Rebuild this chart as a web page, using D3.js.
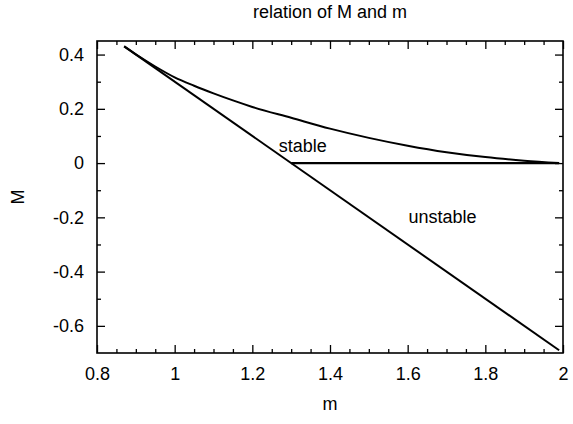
<!DOCTYPE html>
<html>
<head>
<meta charset="utf-8">
<script src="https://cdn.jsdelivr.net/npm/d3@7"></script>
<style>
	body { margin: 0; background: #fff; }
	text { font-family: "Liberation Sans", Arial, sans-serif; fill: #000; }
</style>
</head>
<body>
<div id="chart"></div>
<script>
//values
let curveM = [0.87, 0.9, 0.95, 1.0, 1.05, 1.1, 1.15, 1.2, 1.3, 1.4, 1.5, 1.6, 1.7, 1.8, 1.9, 1.99];
let curveMM = [0.43, 0.401, 0.356, 0.316, 0.285, 0.257, 0.231, 0.207, 0.167, 0.127, 0.093, 0.064, 0.040, 0.022, 0.009, 0];

let lineM = [0.87, 1.99];
let lineMM = [0.43, -0.69];

let zeroM = [1.3, 1.99];
let zeroMM = [0, 0];

let xTicks = [0.8, 1, 1.2, 1.4, 1.6, 1.8, 2];
let xMinor = [0.85, 0.9, 0.95, 1.05, 1.1, 1.15, 1.25, 1.3, 1.35, 1.45, 1.5, 1.55, 1.65, 1.7, 1.75, 1.85, 1.9, 1.95];
let yTicks = [-0.6, -0.4, -0.2, 0, 0.2, 0.4];
let yMinor = [-0.5, -0.3, -0.1, 0.1, 0.3];

let labels = [
	{text: "stable", m: 1.33, M: 0.062},
	{text: "unstable", m: 1.69, M: -0.2}
];

function graph(){

	let width = 573;
	let height = 424;
	let margin = {top: 41, right: 10, bottom: 71, left: 97};
	let fontSize = 18;

	let svg = d3.select("#chart")
		.append("svg")
		.attr("width", width)
		.attr("height", height);

	let xScale = d3.scaleLinear()
		.domain([0.8, 2])
		.range([margin.left, width - margin.right]);

	let yScale = d3.scaleLinear()
		.domain([-0.7, 0.45])
		.range([height - margin.bottom, margin.top]);

	let fmt = (d) => String(+d.toFixed(1));

	//major ticks, bottom + left with labels
	let xAxis = d3.axisBottom(xScale).tickValues(xTicks).tickFormat(fmt)
		.tickSizeInner(-8).tickSizeOuter(0).tickPadding(14);
	let yAxis = d3.axisLeft(yScale).tickValues(yTicks).tickFormat(fmt)
		.tickSizeInner(-8).tickSizeOuter(0).tickPadding(13);

	svg.append("g")
		.attr("class", "axis")
		.attr("transform", `translate(0,${yScale(-0.7)})`)
		.call(xAxis);

	svg.append("g")
		.attr("class", "axis")
		.attr("transform", `translate(${xScale(0.8)},0)`)
		.call(yAxis);

	//mirrored ticks top + right
	svg.append("g")
		.attr("class", "axis")
		.attr("transform", `translate(0,${yScale(0.45)})`)
		.call(d3.axisTop(xScale).tickValues(xTicks).tickFormat("").tickSizeInner(-8).tickSizeOuter(0));

	svg.append("g")
		.attr("class", "axis")
		.attr("transform", `translate(${xScale(2)},0)`)
		.call(d3.axisRight(yScale).tickValues(yTicks).tickFormat("").tickSizeInner(-8).tickSizeOuter(0));

	//minor ticks
	svg.append("g").attr("class", "axis")
		.attr("transform", `translate(0,${yScale(-0.7)})`)
		.call(d3.axisBottom(xScale).tickValues(xMinor).tickFormat("").tickSizeInner(-4).tickSizeOuter(0));
	svg.append("g").attr("class", "axis")
		.attr("transform", `translate(0,${yScale(0.45)})`)
		.call(d3.axisTop(xScale).tickValues(xMinor).tickFormat("").tickSizeInner(-4).tickSizeOuter(0));
	svg.append("g").attr("class", "axis")
		.attr("transform", `translate(${xScale(0.8)},0)`)
		.call(d3.axisLeft(yScale).tickValues(yMinor).tickFormat("").tickSizeInner(-4).tickSizeOuter(0));
	svg.append("g").attr("class", "axis")
		.attr("transform", `translate(${xScale(2)},0)`)
		.call(d3.axisRight(yScale).tickValues(yMinor).tickFormat("").tickSizeInner(-4).tickSizeOuter(0));

	svg.selectAll(".axis .domain").remove();
	svg.selectAll(".axis line").attr("stroke", "#000").attr("stroke-width", 1.3);
	svg.selectAll(".axis text")
		.style("font-family", "\"Liberation Sans\", Arial, sans-serif")
		.attr("font-size", fontSize)
		.attr("fill", "#000");

	//frame
	svg.append("rect")
		.attr("x", xScale(0.8))
		.attr("y", yScale(0.45))
		.attr("width", xScale(2) - xScale(0.8))
		.attr("height", yScale(-0.7) - yScale(0.45))
		.attr("fill", "none")
		.attr("stroke", "#000")
		.attr("stroke-width", 1.6);

	//curves
	let line = d3.line()
		.x((d) => xScale(d[0]))
		.y((d) => yScale(d[1]));

	let curveLine = d3.line()
		.x((d) => xScale(d[0]))
		.y((d) => yScale(d[1]))
		.curve(d3.curveMonotoneX);

	svg.append("path")
		.datum(curveM.map((m, i) => [m, curveMM[i]]))
		.attr("d", curveLine)
		.attr("fill", "none")
		.attr("stroke", "#000")
		.attr("stroke-width", 2);

	svg.append("path")
		.datum(lineM.map((m, i) => [m, lineMM[i]]))
		.attr("d", line)
		.attr("fill", "none")
		.attr("stroke", "#000")
		.attr("stroke-width", 2);

	svg.append("path")
		.datum(zeroM.map((m, i) => [m, zeroMM[i]]))
		.attr("d", line)
		.attr("fill", "none")
		.attr("stroke", "#000")
		.attr("stroke-width", 2.4);

	//region labels
	svg.selectAll(".lbl")
		.data(labels)
		.enter()
		.append("text")
		.attr("class", "lbl")
		.attr("x", (d) => xScale(d.m))
		.attr("y", (d) => yScale(d.M))
		.attr("text-anchor", "middle")
		.attr("dominant-baseline", "central")
		.attr("font-size", fontSize)
		.text((d) => d.text);

	//titles
	let cx = (xScale(0.8) + xScale(2)) / 2;
	svg.append("text")
		.attr("x", cx)
		.attr("y", 12)
		.attr("text-anchor", "middle")
		.attr("dominant-baseline", "central")
		.attr("font-size", fontSize)
		.text("relation of M and m");

	svg.append("text")
		.attr("x", cx)
		.attr("y", 404)
		.attr("text-anchor", "middle")
		.attr("dominant-baseline", "central")
		.attr("font-size", fontSize)
		.text("m");

	svg.append("text")
		.attr("transform", `translate(18,${(yScale(0.45) + yScale(-0.7)) / 2}) rotate(-90)`)
		.attr("text-anchor", "middle")
		.attr("dominant-baseline", "central")
		.attr("font-size", fontSize)
		.text("M");

} //function graph

graph();
</script>
</body>
</html>
